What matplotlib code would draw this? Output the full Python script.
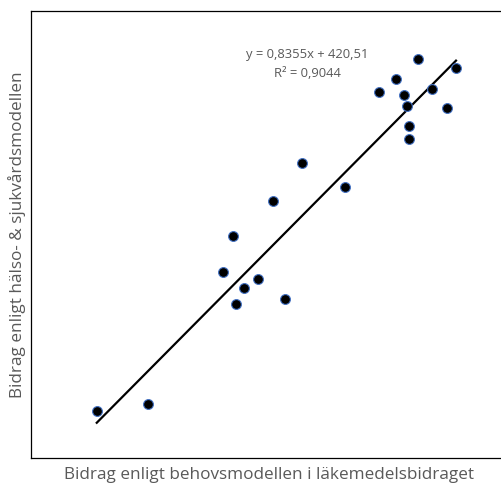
import matplotlib
matplotlib.use("Agg")
import matplotlib.pyplot as plt
import numpy as np

# Data
x_vals = [2747, 2900, 2661, 2592, 2805, 2691, 2705, 2865, 2712, 2712, 2285,
          2456, 2168, 2007, 1968, 2109, 2051, 2020, 2217, 1667, 1463]
y_vals = [2848, 2819, 2783, 2739, 2750, 2730, 2692, 2686, 2628, 2583, 2505,
          2424, 2379, 2261, 2142, 2118, 2089, 2037, 2053, 1705, 1681]
slope = 0.8355
intercept = 420.51
eq_text = "y = 0,8355x + 420,51"
r2_text = "R² = 0,9044"
x_label = "Bidrag enligt behovsmodellen i läkemedelsbidraget"
y_label = "Bidrag enligt hälso- & sjukvårdsmodellen"

plt.rcParams['font.family'] = ['Open Sans', 'DejaVu Sans']

W, H = 502, 484
fig = plt.figure(figsize=(W / 100, H / 100), dpi=100)
left, right, top, bottom = 31, 506, 11, 458
ax = fig.add_axes([left / W, 1 - bottom / H, (right - left) / W, (bottom - top) / H])
ax.set_xlim(1200, 3100)
ax.set_ylim(1526, 3008)

xs = np.array([min(x_vals), max(x_vals)])
ax.plot(xs, slope * xs + intercept, color='black', lw=1.6, zorder=2)
ax.scatter(x_vals, y_vals, s=50, facecolor='black', edgecolor='#4472C4',
           linewidths=0.8, zorder=3)

ax.set_xticks([])
ax.set_yticks([])
for sp in ax.spines.values():
    sp.set_linewidth(0.9)
    sp.set_color('black')

fig.text(307.7 / W, 1 - 54.3 / H, eq_text, ha='center', va='center',
         fontsize=9.4, color='#595959')
fig.text(307.7 / W, 1 - 73.3 / H, r2_text, ha='center', va='center',
         fontsize=9.4, color='#595959')

fig.text(269 / W, 1 - 475 / H, x_label, ha='center', va='center',
         fontsize=12.3, color='#595959')
fig.text(17 / W, 1 - 235 / H, y_label, ha='center', va='center',
         fontsize=12.3, color='#595959', rotation=90)

fig.savefig("out.png", dpi=100)
